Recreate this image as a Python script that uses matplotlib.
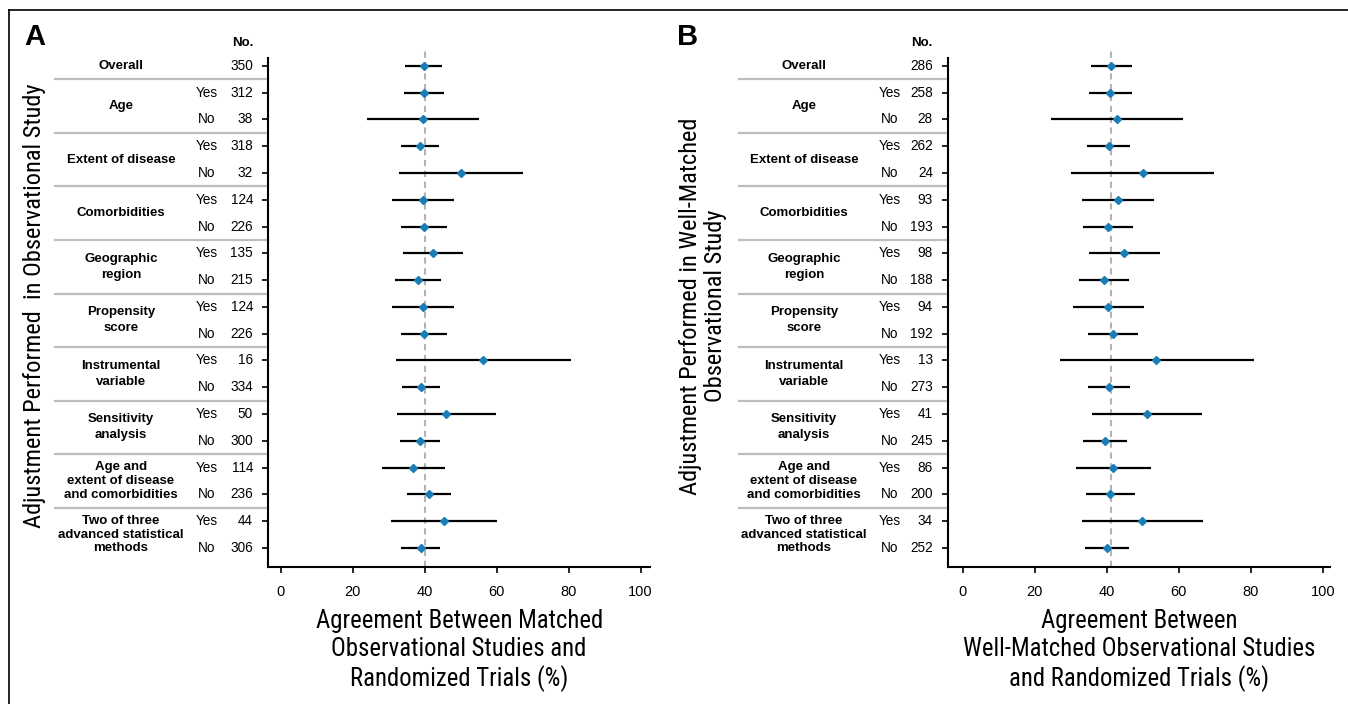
import matplotlib
matplotlib.use("Agg")
import matplotlib.pyplot as plt
from matplotlib.transforms import blended_transform_factory
from matplotlib.lines import Line2D

W, H = 1348, 704

# ---------------- data ----------------
group_labels = ["Overall", "Age", "Extent of disease", "Comorbidities",
                "Geographic\nregion", "Propensity\nscore", "Instrumental\nvariable",
                "Sensitivity\nanalysis", "Age and\nextent of disease\nand comorbidities",
                "Two of three\nadvanced statistical\nmethods"]
group_sizes = [1, 2, 2, 2, 2, 2, 2, 2, 2, 2]
row_flags = ["", "Yes", "No", "Yes", "No", "Yes", "No", "Yes", "No", "Yes", "No",
             "Yes", "No", "Yes", "No", "Yes", "No", "Yes", "No"]

n_a = [350, 312, 38, 318, 32, 124, 226, 135, 215, 124, 226, 16, 334, 50, 300, 114, 236, 44, 306]
est_a = [39.8, 39.8, 39.5, 38.7, 50.1, 39.6, 39.9, 42.2, 38.2, 39.6, 39.9, 56.3, 38.9, 46.0, 38.6, 36.9, 41.1, 45.5, 38.9]
lo_a = [34.7, 34.4, 24.1, 33.4, 32.8, 31.0, 33.5, 34.0, 31.8, 31.0, 33.5, 32.0, 33.7, 32.3, 33.2, 28.1, 35.0, 30.8, 33.5]
hi_a = [44.9, 45.3, 55.0, 44.1, 67.4, 48.1, 46.2, 50.6, 44.6, 48.1, 46.2, 80.6, 44.2, 59.8, 44.2, 45.7, 47.4, 60.2, 44.4]
ref_a = 40.0

n_b = [286, 258, 28, 262, 24, 93, 193, 98, 188, 94, 192, 13, 273, 41, 245, 86, 200, 34, 252]
est_b = [41.2, 41.0, 42.8, 40.5, 50.0, 43.0, 40.4, 44.8, 39.3, 40.4, 41.6, 53.8, 40.6, 51.1, 39.5, 41.8, 40.9, 49.9, 40.0]
lo_b = [35.6, 35.1, 24.5, 34.5, 30.0, 33.0, 33.5, 35.1, 32.4, 30.5, 34.7, 26.9, 34.9, 35.9, 33.5, 31.5, 34.3, 33.1, 34.1]
hi_b = [46.9, 47.0, 61.1, 46.4, 69.9, 53.1, 47.3, 54.7, 46.3, 50.3, 48.6, 80.9, 46.4, 66.5, 45.6, 52.2, 47.8, 66.8, 46.1]
ref_b = 41.3

x_ticks = [0, 20, 40, 60, 80, 100]

ylabel_a = "Adjustment Performed  in Observational Study"
ylabel_b = "Adjustment Performed in Well-Matched\nObservational Study"
xlabel_a = "Agreement Between Matched\nObservational Studies and\nRandomized Trials (%)"
xlabel_b = "Agreement Between\nWell-Matched Observational Studies\nand Randomized Trials (%)"

# ---------------- style ----------------
TABLE_FONT = ["Liberation Sans", "DejaVu Sans"]
COND_FONT = ["Roboto Condensed", "DejaVu Sans"]
BLUE = "#1a7db6"
SEP_GRAY = "#bdbdbd"

fig = plt.figure(figsize=(W / 100, H / 100), dpi=100)
fig.patch.set_facecolor("white")


def fx(px):
    return px / W


def fy(py):
    return 1 - py / H


def draw_panel(spine_px, right_px, xlim, n, est, lo, hi, ref, letter, letter_px,
               label_c, flag_c, num_r, sep_l, ylabel, ylabel_px, xlabel):
    top_px, bot_px = 58.3, 567.3
    ax = fig.add_axes([fx(spine_px), fy(bot_px), fx(right_px - spine_px),
                       (bot_px - top_px) / H])
    nrows = len(n)
    rows = list(range(nrows))
    ax.set_xlim(*xlim)
    ax.set_ylim(nrows - 0.28, -0.28)
    # reference line
    ax.plot([ref, ref], [nrows - 0.28, -0.66], color="#b3b3b3", lw=1.5,
            dashes=(3, 2.2), clip_on=False, zorder=1)
    # CIs
    ax.hlines(rows, lo, hi, color="black", lw=1.6, zorder=2)
    ax.plot(est, rows, linestyle="none", marker="D", ms=4.2, color=BLUE,
            markeredgecolor=BLUE, zorder=3)
    for s in ["top", "right"]:
        ax.spines[s].set_visible(False)
    for s in ["left", "bottom"]:
        ax.spines[s].set_linewidth(1.5)
    ax.set_xticks(x_ticks)
    ax.set_xticklabels([str(t) for t in x_ticks], fontfamily=TABLE_FONT, fontsize=10.5)
    ax.set_yticks(rows)
    ax.set_yticklabels([])
    ax.tick_params(axis="both", direction="out", length=4.5, width=1.2)
    ax.tick_params(axis="x", pad=8)

    tr = blended_transform_factory(fig.transFigure, ax.transData)
    # header
    ax.text(fx(num_r), -0.84, "No.", transform=tr, ha="right", va="center",
            fontsize=9.5, fontweight="bold", family=TABLE_FONT)
    for r in rows:
        ax.text(fx(num_r), r, str(n[r]), transform=tr, ha="right", va="center",
                fontsize=9.8, family=TABLE_FONT)
        if row_flags[r]:
            ax.text(fx(flag_c), r, row_flags[r], transform=tr, ha="center",
                    va="center", fontsize=9.8, family=TABLE_FONT)
    start = 0
    for gi, (lab, size) in enumerate(zip(group_labels, group_sizes)):
        center = start + (size - 1) / 2
        nl = lab.count("\n") + 1
        ls = 1.45 if nl == 2 else 1.2
        ax.text(fx(label_c), center, lab, transform=tr, ha="center", va="center",
                fontsize=9.5, fontweight="bold", family=TABLE_FONT,
                linespacing=ls, multialignment="center")
        start += size
        if gi < len(group_labels) - 1:
            ax.add_line(Line2D([fx(sep_l), fx(spine_px)], [start - 0.5, start - 0.5],
                               transform=tr, color=SEP_GRAY, lw=1.6, clip_on=False))
    # letter
    fig.text(fx(letter_px[0]), fy(letter_px[1]), letter, fontsize=21,
             fontweight="bold", family=TABLE_FONT, ha="left", va="center")
    # y label
    fig.text(fx(ylabel_px[0]), fy(ylabel_px[1]), ylabel, rotation=90,
             ha="center", va="center", fontsize=17.6, family=COND_FONT,
             linespacing=1.12)
    # x label
    fig.text(fx((spine_px + right_px) / 2), fy(609), xlabel, ha="center", va="top",
             fontsize=17.8, family=COND_FONT, linespacing=1.2)
    return ax


draw_panel(268.3, 650, (-3.4, 102.6), n_a, est_a, lo_a, hi_a, ref_a, "A", (24, 37),
           121, 207, 253, 55, ylabel_a, (35, 306), xlabel_a)
draw_panel(948.3, 1330, (-4.0, 102.0), n_b, est_b, lo_b, hi_b, ref_b, "B", (677, 37),
           804, 890, 933, 739, ylabel_b, (703, 306), xlabel_b)

# border lines (top and left)
fig.add_artist(Line2D([fx(9), 1.0], [fy(10), fy(10)], transform=fig.transFigure,
                      color="black", lw=1.2))
fig.add_artist(Line2D([fx(9), fx(9)], [fy(10), 0.0], transform=fig.transFigure,
                      color="black", lw=1.2))

fig.savefig("out.png", dpi=100, facecolor="white")
